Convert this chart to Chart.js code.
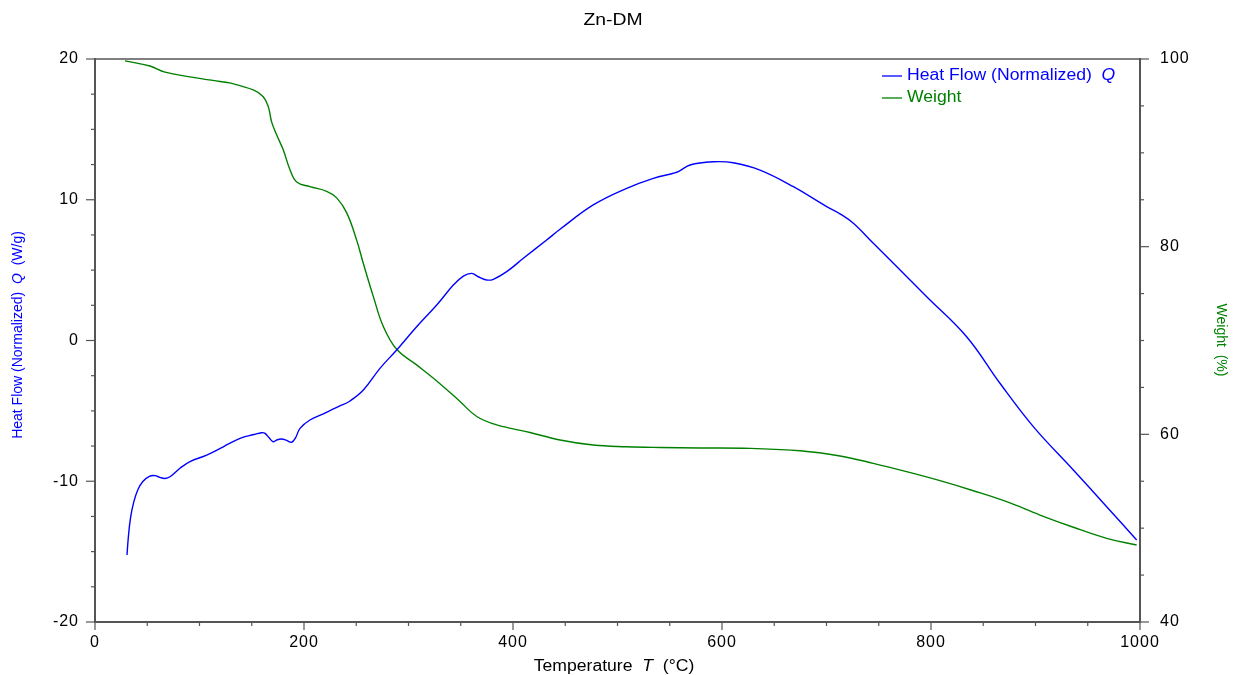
<!DOCTYPE html>
<html>
<head>
<meta charset="utf-8">
<script src="https://cdn.jsdelivr.net/npm/chart.js@4/dist/chart.umd.min.js"></script>
<style>
html,body{margin:0;padding:0;background:#fff;}
#wrap{width:1233px;height:675px;position:relative;}
</style>
</head>
<body>
<div id="wrap"><canvas id="c" width="1233" height="675"></canvas></div>
<script>
// ---- Data ----
const chartTitle = "Zn-DM";
const heatT = [30.6,32,34,37,41,46,52,57.4,62,67,71.8,81.3,90.9,106.9,122.8,138.8,152,159.5,162.7,166.5,170.6,174.5,178.6,183,188.2,192,196.2,205.7,218.5,224.9,234.4,244,256.8,272.7,288.7,307.8,327,342.9,352.5,360.5,366.8,374.8,381.2,394,409.9,432.2,445,476.8,508.8,534.3,553.4,558.2,569.4,591.7,610.8,636.4,668.3,700.2,712.9,725.7,744.8,764,795.9,834.1,866,897.9,936.2,968.1,996.8];
const heatQ = [-15.24,-13.9,-12.6,-11.5,-10.6,-10.0,-9.65,-9.6,-9.72,-9.8,-9.68,-9.08,-8.6,-8.14,-7.55,-6.95,-6.68,-6.55,-6.6,-6.9,-7.19,-7.05,-7.0,-7.08,-7.23,-6.9,-6.24,-5.65,-5.22,-4.98,-4.65,-4.3,-3.52,-1.98,-0.67,0.98,2.52,3.94,4.58,4.77,4.53,4.30,4.35,4.89,5.84,7.14,7.9,9.63,10.81,11.52,11.88,11.99,12.47,12.70,12.63,12.11,10.93,9.51,9.0,8.33,6.91,5.49,3.11,0.27,-3.04,-6.12,-9.2,-11.81,-14.17];
const weightT = [28.7,52.6,67,90.9,119.6,129,151.5,161,165.9,169,173.9,180.2,186.6,193,205.7,221.7,231.3,240.9,250.4,256.8,266.3,275.9,288.7,307.8,330.1,349.3,365.3,384.4,416.3,445,476.8,508.8,540.7,579,627,674.6,712.9,744.8,776.7,808.6,840.5,872.4,904.3,936.2,968.1,996.8];
const weightW = [99.8,99.25,98.6,98.1,97.6,97.45,96.7,95.98,94.9,93.3,91.9,90.3,88.2,86.9,86.4,85.9,85.2,83.6,80.7,78.2,74.7,71.5,69.06,67.4,65.4,63.5,61.9,61.0,60.2,59.4,58.86,58.68,58.6,58.55,58.5,58.25,57.69,56.91,56.02,55.06,53.99,52.82,51.4,50.1,48.92,48.2];
const xMajorLabels = [0,200,400,600,800,1000];
const leftMajorLabels = [-20,-10,0,10,20];
const rightMajorLabels = [40,60,80,100];

const FONT = "'Liberation Sans', Arial, sans-serif";
const BLUE = "#0000ff";
const GREEN = "#008000";
const AXIS = "#555555";

// draw text made of parts (mixed upright / italic), optionally stretched horizontally
function drawMixed(ctx, parts, x, y, align, hscale) {
  const sx = hscale || 1;
  ctx.save();
  ctx.letterSpacing = '0px';
  ctx.translate(x, y);
  ctx.scale(sx, 1);
  let total = 0;
  const widths = parts.map(p => { ctx.font = p.font; const w = ctx.measureText(p.text).width; total += w; return w; });
  let cx = align === 'center' ? -total/2 : 0;
  ctx.textBaseline = 'middle';
  ctx.textAlign = 'left';
  parts.forEach((p,i) => { ctx.font = p.font; ctx.fillStyle = p.color; ctx.fillText(p.text, cx, 0); cx += widths[i]; });
  ctx.restore();
}

const spacingPlugin = {
  id: 'spacing',
  beforeDraw(chart) { chart.ctx.letterSpacing = '1px'; },
  afterDatasetsDraw(chart) { chart.ctx.letterSpacing = '0px'; }
};

const decor = {
  id: 'decor',
  afterDraw(chart) {
    const ctx = chart.ctx;
    const a = chart.chartArea;
    ctx.save();
    ctx.letterSpacing = '0px';
    // top frame line
    ctx.strokeStyle = AXIS; ctx.lineWidth = 1.5;
    ctx.beginPath(); ctx.moveTo(a.left, a.top); ctx.lineTo(a.right, a.top); ctx.stroke();
    // tick marks
    ctx.lineWidth = 1.2;
    const sx = chart.scales.x, sl = chart.scales.y, sr = chart.scales.y2;
    sx.ticks.forEach(t => { const p = sx.getPixelForValue(t.value); const L = xMajorLabels.includes(t.value) ? 8 : 4;
      ctx.beginPath(); ctx.moveTo(p, a.bottom); ctx.lineTo(p, a.bottom + L); ctx.stroke(); });
    sl.ticks.forEach(t => { const p = sl.getPixelForValue(t.value); const L = leftMajorLabels.includes(t.value) ? 9 : 4;
      ctx.beginPath(); ctx.moveTo(a.left, p); ctx.lineTo(a.left - L, p); ctx.stroke(); });
    sr.ticks.forEach(t => { const p = sr.getPixelForValue(t.value); const L = rightMajorLabels.includes(t.value) ? 9 : 4;
      ctx.beginPath(); ctx.moveTo(a.right, p); ctx.lineTo(a.right + L, p); ctx.stroke(); });
    // title
    drawMixed(ctx, [{text: chartTitle, font: "17px " + FONT, color: "#000"}], 613, 20, 'center', 1.14);
    // x title
    drawMixed(ctx, [
      {text: "Temperature  ", font: "16px " + FONT, color: "#000"},
      {text: "T", font: "italic 16px " + FONT, color: "#000"},
      {text: "  (\u00B0C)", font: "16px " + FONT, color: "#000"}], 614, 667, 'center', 1.1);
    // left y title
    ctx.save(); ctx.translate(18, 335); ctx.rotate(-Math.PI/2);
    drawMixed(ctx, [
      {text: "Heat Flow (Normalized)  ", font: "14px " + FONT, color: BLUE},
      {text: "Q", font: "italic 14px " + FONT, color: BLUE},
      {text: "  (W/g)", font: "14px " + FONT, color: BLUE}], 0, 0, 'center', 1);
    ctx.restore();
    // right y title
    ctx.save(); ctx.translate(1221, 340); ctx.rotate(Math.PI/2);
    drawMixed(ctx, [{text: "Weight  (%)", font: "14px " + FONT, color: GREEN}], 0, 0, 'center', 1);
    ctx.restore();
    // legend
    ctx.lineWidth = 1.3;
    ctx.strokeStyle = BLUE; ctx.beginPath(); ctx.moveTo(882, 76); ctx.lineTo(902, 76); ctx.stroke();
    drawMixed(ctx, [
      {text: "Heat Flow (Normalized)  ", font: "16px " + FONT, color: BLUE},
      {text: "Q", font: "italic 16px " + FONT, color: BLUE}], 907, 76, 'left', 1.1);
    ctx.strokeStyle = GREEN; ctx.beginPath(); ctx.moveTo(882, 98); ctx.lineTo(902, 98); ctx.stroke();
    drawMixed(ctx, [{text: "Weight", font: "16px " + FONT, color: GREEN}], 907, 98, 'left', 1.1);
    ctx.restore();
  }
};

const tickFont = {family: FONT, size: 16};

new Chart(document.getElementById('c'), {
  type: 'line',
  data: {
    datasets: [
      {label: 'Heat Flow (Normalized) Q', data: heatT.map((t,i) => ({x: t, y: heatQ[i]})), yAxisID: 'y',
       borderColor: BLUE, borderWidth: 1.4, pointRadius: 0, tension: 0.4, fill: false},
      {label: 'Weight', data: weightT.map((t,i) => ({x: t, y: weightW[i]})), yAxisID: 'y2',
       borderColor: GREEN, borderWidth: 1.4, pointRadius: 0, tension: 0.4, fill: false}
    ]
  },
  options: {
    responsive: false,
    animation: false,
    events: [],
    layout: {padding: {top: 59, left: 0, right: 0, bottom: 0}},
    plugins: {legend: {display: false}, title: {display: false}, tooltip: {enabled: false}},
    scales: {
      x: {type: 'linear', position: 'bottom', min: 0, max: 1000,
          grid: {display: false, drawTicks: false}, border: {display: true, color: AXIS, width: 2},
          ticks: {stepSize: 50, autoSkip: false, maxRotation: 0, color: '#000', font: tickFont, padding: 11,
                  callback: v => xMajorLabels.includes(v) ? String(v) : ''},
          afterFit: s => { s.height = 53; }},
      y: {type: 'linear', position: 'left', min: -20, max: 20,
          grid: {display: false, drawTicks: false}, border: {display: true, color: AXIS, width: 2},
          ticks: {stepSize: 2.5, autoSkip: false, color: '#000', font: tickFont, padding: 16,
                  callback: v => leftMajorLabels.includes(v) ? String(v) : ''},
          afterFit: s => { s.width = 95; }},
      y2: {type: 'linear', position: 'right', min: 40, max: 100,
          grid: {display: false, drawTicks: false}, border: {display: true, color: AXIS, width: 2},
          ticks: {stepSize: 5, autoSkip: false, color: '#000', font: tickFont, padding: 20,
                  callback: v => rightMajorLabels.includes(v) ? String(v) : ''},
          afterFit: s => { s.width = 93; }}
    }
  },
  plugins: [spacingPlugin, decor]
});
</script>
</body>
</html>
